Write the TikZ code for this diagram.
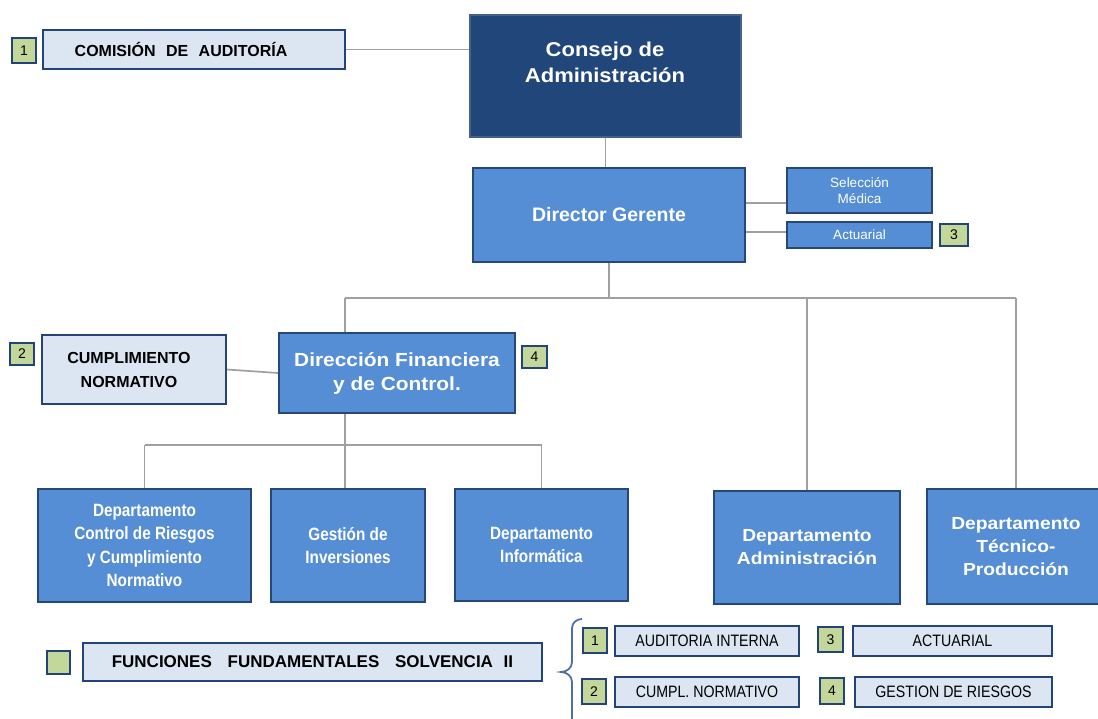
\documentclass[tikz,border=0pt]{standalone}
\usepackage{fontspec}
\setmainfont{Liberation Sans}
\newfontfamily\fnt{Liberation Sans}
\newfontfamily\fntn[FakeStretch=0.86]{Liberation Sans}
\newfontfamily\fntw[FakeStretch=1.1]{Liberation Sans}
\definecolor{navyf}{RGB}{33,71,122}
\definecolor{navyd}{RGB}{70,98,138}
\definecolor{bluef}{RGB}{85,142,213}
\definecolor{blued}{RGB}{38,72,120}
\definecolor{lightf}{RGB}{220,230,242}
\definecolor{lightd}{RGB}{35,68,118}
\definecolor{badgef}{RGB}{196,215,155}
\definecolor{connc}{RGB}{160,160,160}
\definecolor{bracec}{RGB}{75,112,170}
\tikzset{
  box/.style={rectangle, draw, line width=2pt, inner sep=0pt, align=center},
  navybox/.style={box, fill=navyf, draw=navyd, text=white},
  bluebox/.style={box, fill=bluef, draw=blued, text=white},
  lightbox/.style={box, fill=lightf, draw=lightd, text=black},
  badge/.style={box, fill=badgef, draw=lightd, line width=1.8pt, text=black, font=\fnt\fontsize{14}{14}\selectfont},
  conn/.style={draw=connc, line width=1.7pt},
  deptn/.style={font=\fntn\bfseries\fontsize{17.8}{23.5}\selectfont},
  deptw/.style={font=\fntw\bfseries\fontsize{17.5}{23}\selectfont},
  smalltxt/.style={font=\fntn\fontsize{16.5}{16.5}\selectfont},
}
\begin{document}
\begin{tikzpicture}[x=1pt,y=-1pt]
\useasboundingbox (0,0) rectangle (1098,718);
% top
\node[badge, minimum width=24pt, minimum height=25pt] (bA) at (24,50.5) {1};
\node[lightbox, minimum width=302pt, minimum height=39pt, font=\fnt\bfseries\fontsize{16}{16}\selectfont] (com) at (194,49.5) {COMISIÓN\hspace{6pt} DE\hspace{6pt} AUDITORÍA\hspace*{26pt}};
\node[navybox, minimum width=271pt, minimum height=122pt] (cons) at (605.5,76) {};
\node[text=white, font=\fntw\bfseries\fontsize{20}{26}\selectfont, align=center] (tcons) at (605,62) {Consejo de\\Administración};
\draw[conn] (com.east) -- (cons.west |- com.east);
% director
\node[bluebox, minimum width=272pt, minimum height=94pt, font=\fnt\bfseries\fontsize{19.5}{24}\selectfont] (dg) at (609,215) {Director Gerente};
\draw[conn] (cons.south) -- (cons.south |- dg.north);
\node[bluebox, minimum width=145pt, minimum height=45pt, font=\fnt\fontsize{13.5}{16.5}\selectfont] (sel) at (859.5,190.5) {Selección\\Médica};
\node[bluebox, minimum width=145pt, minimum height=26pt, font=\fnt\fontsize{13.5}{16}\selectfont] (act) at (859.5,235) {Actuarial};
\node[badge, minimum width=28pt, minimum height=22pt] (bC) at (954,235) {3};
\coordinate (ys) at (0,203);
\coordinate (ya) at (0,232);
\draw[conn] (dg.east |- ys) -- (sel.west |- ys);
\draw[conn] (dg.east |- ya) -- (act.west |- ya);
% level 2
\node[bluebox, minimum width=236pt, minimum height=80pt, font=\fntw\bfseries\fontsize{19}{24}\selectfont] (df) at (397,373) {Dirección Financiera\\y de Control.};
\node[badge, minimum width=25pt, minimum height=22pt] (bD) at (534.5,357) {4};
\node[lightbox, minimum width=184pt, minimum height=69pt, font=\fnt\bfseries\fontsize{16}{24}\selectfont] (cum) at (134,369.5) {CUMPLIMIENTO\hspace*{10pt}\\NORMATIVO\hspace*{10pt}};
\node[badge, minimum width=24pt, minimum height=22pt] (bB) at (22,354) {2};
\draw[conn] (cum.east) -- (df.west);
\node[bluebox, minimum width=186pt, minimum height=113pt, deptw] (dadm) at (807,547.5) {Departamento\\Administración};
\node[bluebox, minimum width=178pt, minimum height=115pt, deptw] (dtec) at (1016,546.5) {Departamento\\Técnico-\\Producción};
\coordinate (bus) at (611,298);
\coordinate (bl) at (345,298);
\draw[conn] (dg.south) -- (dg.south |- bus);
\draw[conn] (bl) -- (dtec.north |- bus);
\draw[conn] (bl) -- (bl |- df.north);
\draw[conn] (dadm.north |- bus) -- (dadm.north);
\draw[conn] (dtec.north |- bus) -- (dtec.north);
% level 3
\node[bluebox, minimum width=213pt, minimum height=113pt, deptn] (dctl) at (144.5,545.5) {Departamento\\Control de Riesgos\\y Cumplimiento\\Normativo};
\node[bluebox, minimum width=154pt, minimum height=113pt, deptn] (gest) at (348,545.5) {Gestión de\\Inversiones};
\node[bluebox, minimum width=173pt, minimum height=112pt, deptn] (dinf) at (541.5,545) {Departamento\\Informática};
\coordinate (b2) at (345,445);
\draw[conn] (bl |- df.south) -- (b2);
\draw[conn] (dctl.north |- b2) -- (dinf.north |- b2);
\draw[conn] (dctl.north |- b2) -- (dctl.north);
\draw[conn] (b2) -- (b2 |- gest.north);
\draw[conn] (dinf.north |- b2) -- (dinf.north);
% legend
\node[badge, minimum width=23pt, minimum height=23pt] (b0) at (58.5,662.5) {};
\node[lightbox, minimum width=459pt, minimum height=38pt, font=\fnt\bfseries\fontsize{17}{17}\selectfont] (fun) at (312.5,662) {FUNCIONES\hspace{11pt} FUNDAMENTALES\hspace{11pt} SOLVENCIA\hspace{6pt} II};
\draw[bracec, line width=1.8pt] (582,619) to[out=180,in=90] (572,628) -- (572,662) to[out=-90,in=0] (561,672) to[out=0,in=90] (572,682) -- (572,725);
\node[badge, minimum width=24pt, minimum height=25pt] (l1) at (595,640.5) {1};
\node[lightbox, minimum width=184pt, minimum height=30pt, smalltxt] (aud) at (707,641) {AUDITORIA INTERNA};
\node[badge, minimum width=24pt, minimum height=25pt] (l2) at (594,691.5) {2};
\node[lightbox, minimum width=184pt, minimum height=30pt, smalltxt] (cn) at (707,692) {CUMPL. NORMATIVO};
\node[badge, minimum width=25pt, minimum height=25pt] (l3) at (830.5,639.5) {3};
\node[lightbox, minimum width=199pt, minimum height=30pt, smalltxt] (ac) at (952.5,641) {ACTUARIAL};
\node[badge, minimum width=24pt, minimum height=26pt] (l4) at (832,691) {4};
\node[lightbox, minimum width=197pt, minimum height=30pt, smalltxt] (ges) at (953.5,692) {GESTION DE RIESGOS};
\end{tikzpicture}
\end{document}
